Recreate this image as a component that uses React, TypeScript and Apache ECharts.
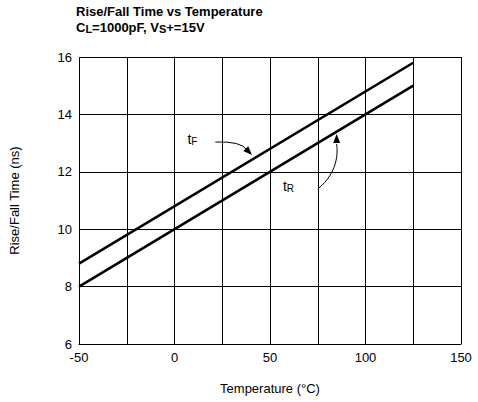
import React, { useEffect, useRef } from "react";
import * as echarts from "echarts";

const temps = [-50, 125];
const tRise = [8.0, 15.0];
const tFall = [8.8, 15.8];
const xTicks = [-50, 0, 50, 100, 150];
const yTicks = [6, 8, 10, 12, 14, 16];

const FONT = "'Liberation Sans Narrow', 'Liberation Sans', Arial, sans-serif";

export default function App() {
  const ref = useRef<HTMLDivElement>(null);
  useEffect(() => {
    const chart = echarts.init(ref.current!, null, { renderer: "svg" });
    const option: any = {
      animation: false,
      backgroundColor: "#fff",
      textStyle: { fontFamily: FONT },
      title: {
        left: 76,
        top: 3,
        padding: 0,
        text: "{b|Rise/Fall Time vs Temperature}\n{b|C}{s|L}{b|=1000pF, V}{s|S}{b|+=15V}",
        textStyle: {
          rich: {
            b: { fontFamily: FONT, fontWeight: "bold", fontSize: 13, color: "#000", lineHeight: 16 },
            s: { fontFamily: FONT, fontWeight: "bold", fontSize: 11, color: "#000", lineHeight: 12, padding: [4, 0, 0, 0] },
          },
        },
      },
      grid: { left: 77, top: 57, width: 384, height: 287, containLabel: false },
      xAxis: {
        type: "value",
        min: -50,
        max: 150,
        interval: 25,
        name: "Temperature (°C)",
        nameLocation: "middle",
        nameGap: 38,
        nameTextStyle: { fontFamily: FONT, fontSize: 13, color: "#000" },
        axisLine: { show: true, lineStyle: { color: "#000", width: 1 } },
        axisTick: { show: false },
        axisLabel: {
          fontFamily: FONT,
          fontSize: 13,
          color: "#000",
          margin: 7,
          formatter: (v: number) => (xTicks.includes(v) ? String(v) : ""),
        },
        splitLine: { show: true, lineStyle: { color: "#000", width: 1 } },
      },
      yAxis: {
        type: "value",
        min: 6,
        max: 16,
        interval: 2,
        name: "Rise/Fall Time (ns)",
        nameLocation: "middle",
        nameGap: 58,
        nameTextStyle: { fontFamily: FONT, fontSize: 13, color: "#000" },
        axisLine: { show: true, lineStyle: { color: "#000", width: 1 } },
        axisTick: { show: false },
        axisLabel: {
          fontFamily: FONT,
          fontSize: 13,
          color: "#000",
          margin: 7,
          formatter: (v: number) => (yTicks.includes(v) ? String(v) : ""),
        },
        splitLine: { show: true, lineStyle: { color: "#000", width: 1 } },
      },
      series: [
        {
          name: "tF",
          type: "line",
          data: temps.map((t, i) => [t, tFall[i]]),
          showSymbol: false,
          lineStyle: { color: "#000", width: 2.6 },
        },
        {
          name: "tR",
          type: "line",
          data: temps.map((t, i) => [t, tRise[i]]),
          showSymbol: false,
          lineStyle: { color: "#000", width: 2.6 },
        },
      ],
    };
    chart.setOption(option);

    // annotations in data coordinates
    const px = (p: number[]) => chart.convertToPixel({ gridIndex: 0 }, p) as number[];
    const d = (x: number, y: number) => [(x - 77) / 1.92 - 50, 16 - (y - 57) / 28.7];

    const head = (tip: number[], from: number[]) => {
      const dx = tip[0] - from[0];
      const dy = tip[1] - from[1];
      const L = Math.hypot(dx, dy);
      const ux = dx / L, uy = dy / L;
      const len = 9, w = 3.5;
      const bx = tip[0] - ux * len, by = tip[1] - uy * len;
      return [tip, [bx - uy * w, by + ux * w], [bx + uy * w, by - ux * w]];
    };

    const fT = px(d(214, 142));
    const fC = px(d(240, 141));
    const fE = px(d(246, 150));
    const fTip = px(d(251, 155));
    const rT = px(d(317, 189));
    const rC1 = px(d(338, 172));
    const rC2 = px(d(337, 152));
    const rE = px(d(336, 144));
    const rTip = px(d(336, 134));
    const fLab = px(d(186, 139));
    const rLab = px(d(282, 186));

    const labelStyle = (p: number[], sub: string) => ({
      type: "text",
      x: p[0],
      y: p[1],
      style: {
        text: `{t|t}{s|${sub}}`,
        verticalAlign: "middle",
        rich: {
          t: { fontFamily: FONT, fontSize: 14, fill: "#000", lineHeight: 16 },
          s: { fontFamily: FONT, fontSize: 10, fill: "#000", lineHeight: 16, padding: [5, 0, 0, 0] },
        },
      },
    });

    chart.setOption({
      graphic: [
        labelStyle(fLab, "F"),
        labelStyle(rLab, "R"),
        {
          type: "bezierCurve",
          shape: { x1: fT[0], y1: fT[1], cpx1: fC[0], cpy1: fC[1], x2: fE[0], y2: fE[1] },
          style: { stroke: "#000", lineWidth: 1, fill: null },
        },
        { type: "polygon", shape: { points: head(fTip, fE) }, style: { fill: "#000" } },
        {
          type: "bezierCurve",
          shape: { x1: rT[0], y1: rT[1], cpx1: rC1[0], cpy1: rC1[1], cpx2: rC2[0], cpy2: rC2[1], x2: rE[0], y2: rE[1] },
          style: { stroke: "#000", lineWidth: 1, fill: null },
        },
        { type: "polygon", shape: { points: head(rTip, rE) }, style: { fill: "#000" } },
      ],
    });

    return () => chart.dispose();
  }, []);
  return (
    <div
      ref={ref}
      style={{ position: "fixed", left: 0, top: 0, width: 478, height: 402, background: "#fff" }}
    />
  );
}
